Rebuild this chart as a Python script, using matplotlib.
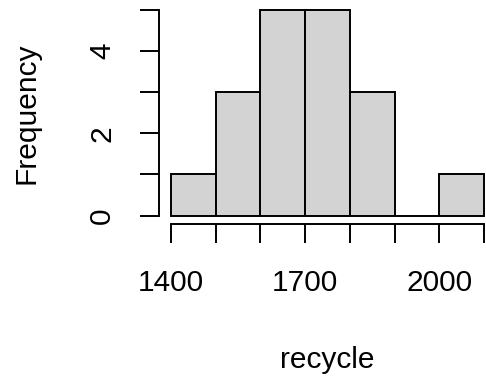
import matplotlib
matplotlib.use("Agg")
import matplotlib.pyplot as plt

plt.rcParams['font.family'] = ['Liberation Sans', 'DejaVu Sans']

breaks = [1400, 1500, 1600, 1700, 1800, 1900, 2000, 2100]
counts = [1, 3, 5, 5, 3, 0, 1]
xtick_labels = ['1400', '', '', '1700', '', '', '2000', '']
ytick_vals = [0, 1, 2, 3, 4, 5]
ytick_labels = ['0', '', '2', '', '4', '']

W, H = 486, 379
fig = plt.figure(figsize=(W / 100, H / 100), dpi=100)
left_px, right_px = 158.5, 496.5
top_px, bottom_px = 1.8, 223.8
ax = fig.add_axes([left_px / W, 1 - bottom_px / H,
                   (right_px - left_px) / W, (bottom_px - top_px) / H])

widths = [b - a for a, b in zip(breaks[:-1], breaks[1:])]
ax.bar(breaks[:-1], counts, width=widths, align='edge', color='#D3D3D3',
       edgecolor='black', linewidth=1.4, clip_on=False)

ax.set_xlim(1372, 2128)
ax.set_ylim(-0.2, 5.2)
for s in ['top', 'right']:
    ax.spines[s].set_visible(False)
ax.spines['left'].set_bounds(0, 5)
ax.spines['bottom'].set_bounds(1400, 2100)
for s in ['left', 'bottom']:
    ax.spines[s].set_linewidth(1.4)

ax.set_xticks(breaks)
ax.set_xticklabels(xtick_labels)
ax.set_yticks(ytick_vals)
ax.set_yticklabels(ytick_labels, rotation=90, va='center')
ax.tick_params(axis='both', length=13.5, width=1.4, labelsize=21.5, colors='black')
ax.tick_params(axis='x', pad=19)
ax.tick_params(axis='y', pad=17)

ax.set_xlabel('recycle', fontsize=21.5)
ax.set_ylabel('Frequency', fontsize=21.5)
ax.xaxis.set_label_coords((327.5 - left_px) / (right_px - left_px), -(360 - bottom_px) / (bottom_px - top_px))
ax.xaxis.label.set_va('center')
ax.yaxis.set_label_coords(-(left_px - 27) / (right_px - left_px), 0.5)
ax.yaxis.label.set_va('center')

fig.savefig('out.png', dpi=100)
